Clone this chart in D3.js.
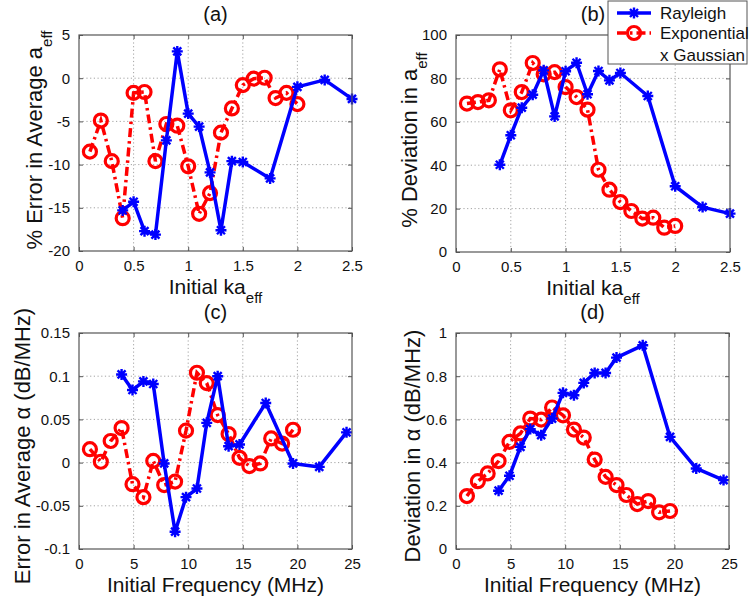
<!DOCTYPE html>
<html>
<head>
<meta charset="utf-8">
<script src="https://cdn.jsdelivr.net/npm/d3@7"></script>
<style>
  html, body { margin: 0; padding: 0; background: #fff; }
  svg { display: block; font-family: "Liberation Sans", Arial, Helvetica, sans-serif; }
</style>
</head>
<body>
<svg id="chart" width="751" height="605"></svg>
<script>
// ---- data ----
// (a), (b): x = initial ka_eff
const kaRayleigh = [0.4, 0.5, 0.6, 0.7, 0.8, 0.9, 1.0, 1.1, 1.2, 1.3, 1.4, 1.5, 1.75, 2.0, 2.25, 2.5];
const kaExpGauss = [0.1, 0.2, 0.3, 0.4, 0.5, 0.6, 0.7, 0.8, 0.9, 1.0, 1.1, 1.2, 1.3, 1.4, 1.5, 1.6, 1.7, 1.8, 1.9, 2.0];

const errAeffRayleigh = [-15.3, -14.3, -17.7, -18.1, -7.2, 3.1, -4.1, -5.6, -10.9, -17.6, -9.6, -9.7, -11.6, -1.0, -0.2, -2.4];
const errAeffExpGauss = [-8.5, -4.9, -9.6, -16.2, -1.7, -1.6, -9.6, -5.3, -5.5, -10.2, -15.7, -13.3, -6.3, -3.5, -0.8, -0.05, 0.05, -2.3, -1.7, -3.0];

const devAeffRayleigh = [40.2, 53.8, 66.5, 72.5, 83.7, 62.5, 83.3, 87.2, 72.7, 83.4, 79.1, 82.5, 71.9, 30.3, 20.7, 17.7];
const devAeffExpGauss = [68.4, 69.1, 69.9, 84.2, 65.3, 73.7, 87.1, 81.9, 82.9, 76.0, 71.4, 65.6, 37.9, 28.7, 23.0, 18.9, 15.4, 15.8, 11.2, 12.0];

// (c), (d): x = initial frequency (MHz)
const freqRayleigh = [3.9, 4.9, 5.9, 6.8, 7.8, 8.8, 9.8, 10.8, 11.7, 12.7, 13.7, 14.7, 17.1, 19.6, 22.0, 24.5];
const freqExpGauss = [1.0, 2.0, 2.9, 3.9, 4.9, 5.9, 6.8, 7.8, 8.8, 9.8, 10.8, 11.7, 12.7, 13.7, 14.7, 15.6, 16.6, 17.6, 18.6, 19.6];

const errAlphaRayleigh = [0.102, 0.084, 0.094, 0.091, -0.001, -0.080, -0.040, -0.030, 0.046, 0.100, 0.019, 0.021, 0.069, -0.001, -0.005, 0.035];
const errAlphaExpGauss = [0.0155, 0.001, 0.025, 0.040, -0.025, -0.040, 0.002, -0.026, -0.022, 0.037, 0.104, 0.092, 0.055, 0.033, 0.0055, -0.004, -0.001, 0.028, 0.022, 0.038];

const devAlphaRayleigh = [0.270, 0.339, 0.473, 0.555, 0.527, 0.604, 0.723, 0.712, 0.769, 0.815, 0.815, 0.886, 0.943, 0.519, 0.373, 0.319];
const devAlphaExpGauss = [0.245, 0.314, 0.350, 0.407, 0.496, 0.535, 0.604, 0.599, 0.655, 0.619, 0.553, 0.516, 0.414, 0.334, 0.296, 0.250, 0.208, 0.222, 0.170, 0.176];

// tick values and their labels
const kaTicks = [0, 0.5, 1, 1.5, 2, 2.5];
const kaTickLabels = ["0", "0.5", "1", "1.5", "2", "2.5"];
const freqTicks = [0, 5, 10, 15, 20, 25];
const freqTickLabels = ["0", "5", "10", "15", "20", "25"];
const errAeffTicks = [-20, -15, -10, -5, 0, 5];
const errAeffTickLabels = ["-20", "-15", "-10", "-5", "0", "5"];
const devAeffTicks = [0, 20, 40, 60, 80, 100];
const devAeffTickLabels = ["0", "20", "40", "60", "80", "100"];
const errAlphaTicks = [-0.1, -0.05, 0, 0.05, 0.1, 0.15];
const errAlphaTickLabels = ["-0.1", "-0.05", "0", "0.05", "0.1", "0.15"];
const devAlphaTicks = [0, 0.2, 0.4, 0.6, 0.8, 1];
const devAlphaTickLabels = ["0", "0.2", "0.4", "0.6", "0.8", "1"];

const seriesNames = ["Rayleigh", "Exponential", "x Gaussian"];

// ---- styles ----
const BLUE = "#0000ff";
const RED = "#ff0000";
const AXIS_COLOR = "#555";
const GRID_COLOR = "#999";

const svg = d3.select("#chart");

const panels = [
  { id: "(a)", box: { l: 79, r: 352, t: 35, b: 251 },
    xDomain: [0, 2.5], yDomain: [-20, 5],
    xTicks: kaTicks, xLabels: kaTickLabels, yTicks: errAeffTicks, yLabels: errAeffTickLabels,
    xTitle: ["Initial ka", "eff"], yTitle: ["% Error in Average a", "eff"],
    yTitleX: 42, yTitleY: 140, yTitleSize: 22,
    ray: { x: kaRayleigh, y: errAeffRayleigh }, exp: { x: kaExpGauss, y: errAeffExpGauss } },
  { id: "(b)", box: { l: 456, r: 730, t: 35, b: 252 },
    xDomain: [0, 2.5], yDomain: [0, 100],
    xTicks: kaTicks, xLabels: kaTickLabels, yTicks: devAeffTicks, yLabels: devAeffTickLabels,
    xTitle: ["Initial ka", "eff"], yTitle: ["% Deviation in a", "eff"],
    yTitleX: 417, yTitleY: 140, yTitleSize: 22,
    ray: { x: kaRayleigh, y: devAeffRayleigh }, exp: { x: kaExpGauss, y: devAeffExpGauss } },
  { id: "(c)", box: { l: 79, r: 352, t: 333, b: 549 },
    xDomain: [0, 25], yDomain: [-0.1, 0.15],
    xTicks: freqTicks, xLabels: freqTickLabels, yTicks: errAlphaTicks, yLabels: errAlphaTickLabels,
    xTitle: ["Initial Frequency (MHz)", null], yTitle: ["Error in Average \u03b1 (dB/MHz)", null],
    yTitleX: 30, yTitleY: 446, yTitleSize: 22,
    ray: { x: freqRayleigh, y: errAlphaRayleigh }, exp: { x: freqExpGauss, y: errAlphaExpGauss } },
  { id: "(d)", box: { l: 456, r: 729, t: 333, b: 549 },
    xDomain: [0, 25], yDomain: [0, 1],
    xTicks: freqTicks, xLabels: freqTickLabels, yTicks: devAlphaTicks, yLabels: devAlphaTickLabels,
    xTitle: ["Initial Frequency (MHz)", null], yTitle: ["Deviation in \u03b1 (dB/MHz)", null],
    yTitleX: 420, yTitleY: 446, yTitleSize: 22,
    ray: { x: freqRayleigh, y: devAlphaRayleigh }, exp: { x: freqExpGauss, y: devAlphaExpGauss } }
];

// asterisk marker
const starPath = "M-5.5,0H5.5M0,-5.5V5.5M-4,-4L4,4M-4,4L4,-4";

function drawRayleigh(g, pts, lineGen) {
  g.append("path").datum(pts)
    .attr("d", lineGen)
    .attr("fill", "none").attr("stroke", BLUE).attr("stroke-width", 3.5)
    .attr("stroke-linejoin", "round");
  g.selectAll(null).data(pts).enter().append("path")
    .attr("transform", d => `translate(${d[0]},${d[1]})`)
    .attr("d", starPath)
    .attr("fill", "none").attr("stroke", BLUE).attr("stroke-width", 2.4);
}

function drawExpGauss(g, pts, lineGen) {
  g.append("path").datum(pts)
    .attr("d", lineGen)
    .attr("fill", "none").attr("stroke", RED).attr("stroke-width", 3.5)
    .attr("stroke-dasharray", "9,4,2.5,4");
  g.selectAll(null).data(pts).enter().append("circle")
    .attr("cx", d => d[0]).attr("cy", d => d[1]).attr("r", 6.5)
    .attr("fill", "none").attr("stroke", RED).attr("stroke-width", 3.2);
}

panels.forEach(p => {
  const { l, r, t, b } = p.box;
  const x = d3.scaleLinear().domain(p.xDomain).range([l, r]);
  const y = d3.scaleLinear().domain(p.yDomain).range([b, t]);
  const g = svg.append("g").attr("class", "panel");

  // white plot area
  g.append("rect").attr("x", l).attr("y", t).attr("width", r - l).attr("height", b - t).attr("fill", "#fff");

  // dotted grid
  const grid = g.append("g").attr("stroke", GRID_COLOR).attr("stroke-width", 0.9).attr("stroke-dasharray", "1.2,2.5");
  p.xTicks.slice(1, -1).forEach(v => {
    grid.append("line").attr("x1", x(v)).attr("x2", x(v)).attr("y1", t).attr("y2", b);
  });
  p.yTicks.slice(1, -1).forEach(v => {
    grid.append("line").attr("x1", l).attr("x2", r).attr("y1", y(v)).attr("y2", y(v));
  });

  // axes (ticks inward, labels only on bottom/left)
  const xAxis = d3.axisBottom(x).tickValues(p.xTicks)
    .tickFormat((d, i) => p.xLabels[i]).tickSizeInner(-4).tickSizeOuter(0).tickPadding(9);
  const yAxis = d3.axisLeft(y).tickValues(p.yTicks)
    .tickFormat((d, i) => p.yLabels[i]).tickSizeInner(-4).tickSizeOuter(0).tickPadding(9);
  const xTop = d3.axisTop(x).tickValues(p.xTicks).tickFormat("").tickSizeInner(-4).tickSizeOuter(0);
  const yRight = d3.axisRight(y).tickValues(p.yTicks).tickFormat("").tickSizeInner(-4).tickSizeOuter(0);

  const styleAxis = sel => {
    sel.select(".domain").remove();
    sel.selectAll("line").attr("stroke", AXIS_COLOR);
    sel.selectAll("text").attr("fill", "#111").style("font-size", "15px");
  };
  g.append("g").attr("transform", `translate(0,${b})`).call(xAxis).call(styleAxis);
  g.append("g").attr("transform", `translate(${l},0)`).call(yAxis).call(styleAxis);
  g.append("g").attr("transform", `translate(0,${t})`).call(xTop).call(styleAxis);
  g.append("g").attr("transform", `translate(${r},0)`).call(yRight).call(styleAxis);

  // data series
  const lineGen = d3.line();
  const plot = g.append("g");
  const expPts = p.exp.x.map((v, i) => [x(v), y(p.exp.y[i])]);
  const rayPts = p.ray.x.map((v, i) => [x(v), y(p.ray.y[i])]);
  drawExpGauss(plot, expPts, lineGen);
  drawRayleigh(plot, rayPts, lineGen);

  // axes box
  g.append("rect").attr("x", l).attr("y", t).attr("width", r - l).attr("height", b - t)
    .attr("fill", "none").attr("stroke", AXIS_COLOR).attr("stroke-width", 1.2);

  // panel title
  g.append("text").attr("x", (l + r) / 2).attr("y", t - 14)
    .attr("text-anchor", "middle").style("font-size", "20px").attr("fill", "#111").text(p.id);

  // x title
  const xt = g.append("text").attr("x", (l + r) / 2).attr("y", b + 43)
    .attr("text-anchor", "middle").style("font-size", "21px").attr("fill", "#111");
  xt.append("tspan").text(p.xTitle[0]);
  if (p.xTitle[1]) xt.append("tspan").attr("dy", 9).style("font-size", "15px").text(p.xTitle[1]);

  // y title
  const yt = g.append("text")
    .attr("transform", `translate(${p.yTitleX},${p.yTitleY}) rotate(-90)`)
    .attr("text-anchor", "middle").style("font-size", p.yTitleSize + "px").attr("fill", "#111");
  yt.append("tspan").text(p.yTitle[0]);
  if (p.yTitle[1]) yt.append("tspan").attr("dy", 10).style("font-size", "15px").text(p.yTitle[1]);
});

// ---- legend ----
const leg = svg.append("g").attr("class", "legend");
leg.append("rect").attr("x", 608).attr("y", 1).attr("width", 139).attr("height", 63)
  .attr("fill", "#fff").attr("stroke", AXIS_COLOR).attr("stroke-width", 1);
const legY = [13, 33];
const legLine = d3.line();
// Rayleigh entry
leg.append("path").datum([[617, legY[0]], [651, legY[0]]]).attr("d", legLine)
  .attr("stroke", BLUE).attr("stroke-width", 3.5);
leg.append("path").attr("transform", `translate(634,${legY[0]})`).attr("d", starPath)
  .attr("fill", "none").attr("stroke", BLUE).attr("stroke-width", 2.4);
// Exponential x Gaussian entry
leg.append("path").datum([[617, legY[1]], [651, legY[1]]]).attr("d", legLine)
  .attr("stroke", RED).attr("stroke-width", 3.5).attr("stroke-dasharray", "9,4,2.5,4");
leg.append("circle").attr("cx", 634).attr("cy", legY[1]).attr("r", 6.5)
  .attr("fill", "none").attr("stroke", RED).attr("stroke-width", 3.2);

leg.selectAll("text.lt").data(seriesNames).enter().append("text")
  .attr("class", "lt")
  .attr("x", 660).attr("y", (d, i) => [19, 39, 61][i])
  .style("font-size", "17px").attr("fill", "#111").text(d => d);
</script>
</body>
</html>
